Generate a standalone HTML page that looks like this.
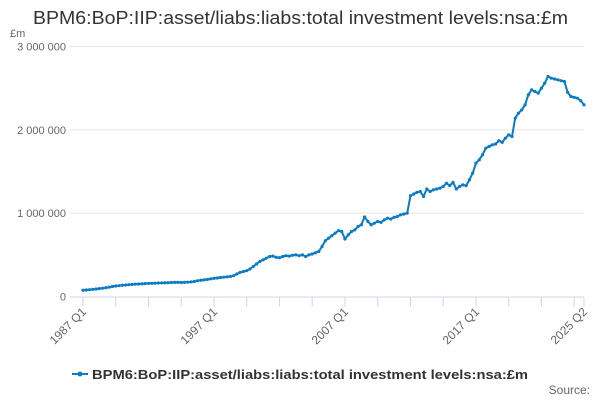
<!DOCTYPE html>
<html><head><meta charset="utf-8"><style>
body{margin:0;background:#fff;font-family:"Liberation Sans",sans-serif}
svg text{font-family:"Liberation Sans",sans-serif}
</style></head><body>
<svg id="c" width="600" height="400">
<text x="33" y="24" textLength="535" lengthAdjust="spacingAndGlyphs" font-size="18" fill="#333">BPM6:BoP:IIP:asset/liabs:liabs:total investment levels:nsa:£m</text>
<text x="10" y="37" font-size="11" fill="#666">£m</text>
<g id="grid"></g><g id="xa"></g><g id="plot"></g>
<g>
<line x1="72" y1="374" x2="88" y2="374" stroke="#0a7bc4" stroke-width="2"/>
<circle cx="80" cy="374" r="2.5" fill="#0a7bc4"/>
<text x="92" y="379" textLength="436" lengthAdjust="spacingAndGlyphs" font-size="13" font-weight="bold" fill="#333">BPM6:BoP:IIP:asset/liabs:liabs:total investment levels:nsa:£m</text>
</g>
<text x="590" y="394" text-anchor="end" font-size="12" fill="#666">Source:</text>
</svg>
<script>
const startYear=1987;
const values=[75,78,82,86,90,95,100,105,112,120,126,130,135,138,142,145,148,150,152,155,157,158,160,162,163,165,166,168,170,170,168,170,172,175,180,190,195,200,205,212,218,222,228,232,236,240,250,270,290,300,310,330,360,390,420,440,460,480,485,470,465,480,490,485,495,500,490,500,480,500,510,525,540,600,670,700,730,760,790,780,690,740,780,800,840,860,955,900,860,880,900,890,920,940,930,950,960,980,990,1000,1210,1230,1250,1260,1200,1290,1260,1280,1290,1300,1320,1360,1330,1370,1290,1320,1340,1330,1400,1480,1600,1640,1700,1780,1800,1820,1830,1870,1850,1900,1940,1920,2140,2200,2240,2300,2420,2480,2460,2440,2500,2560,2640,2620,2610,2600,2590,2580,2450,2400,2390,2380,2350,2300].map(v=>v*1000);
const yTicks=[0,1000000,2000000,3000000];
const yTickLabels=["0","1 000 000","2 000 000","3 000 000"];
const xLabelIdx=[0,40,80,120,153];
const xLabels=["1987 Q1","1997 Q1","2007 Q1","2017 Q1","2025 Q2"];
const NS="http://www.w3.org/2000/svg";
const x0=83,x1=584,y0=296.5,yTop=46.5;
const X=i=>x0+(x1-x0)*i/(values.length-1);
const Y=v=>y0-(y0-yTop)*v/3000000;
function mk(t,a,p){const e=document.createElementNS(NS,t);for(const k in a)e.setAttribute(k,a[k]);p.appendChild(e);return e;}
const grid=document.getElementById('grid'),xa=document.getElementById('xa'),plot=document.getElementById('plot');
yTicks.forEach((v,i)=>{
 if(i>0){const l=mk('line',{x1:70,x2:x1,y1:Y(v),y2:Y(v),stroke:'#e6e6e6'},grid);
 
 }
 const t=mk('text',{x:66,y:Y(v)+4,'text-anchor':'end','font-size':11,fill:'#666'},grid);t.textContent=yTickLabels[i];
 
 
});
const ax=mk('line',{x1:70,x2:x1,y1:y0+0.5,y2:y0+0.5,stroke:'#ccd6eb'},xa);


for(let i=0;i<values.length;i+=10){const tk=mk('line',{x1:X(i),x2:X(i),y1:y0+1,y2:y0+10,stroke:'#ccd6eb'},xa);
 
 }
const last=mk('line',{x1:X(values.length-1),x2:X(values.length-1),y1:y0+1,y2:y0+10,stroke:'#ccd6eb'},xa);


xLabelIdx.forEach((idx,i)=>{const x=X(idx)+4,y=y0+16;
 const t=mk('text',{x:x,y:y,'text-anchor':'end','font-size':12,fill:'#666',transform:`rotate(-45 ${x} ${y})`},xa);t.textContent=xLabels[i];
 
 });
const pts=values.map((v,i)=>X(i).toFixed(1)+','+Y(v).toFixed(1)).join(' ');
const pl=mk('polyline',{points:pts,fill:'none',stroke:'#0a7bc4','stroke-width':2,'stroke-linejoin':'round'},plot);


values.forEach((v,i)=>{const c=mk('circle',{cx:X(i),cy:Y(v),r:1.6,fill:'#0a7bc4'},plot);
 
 });
</script>
</body></html>
